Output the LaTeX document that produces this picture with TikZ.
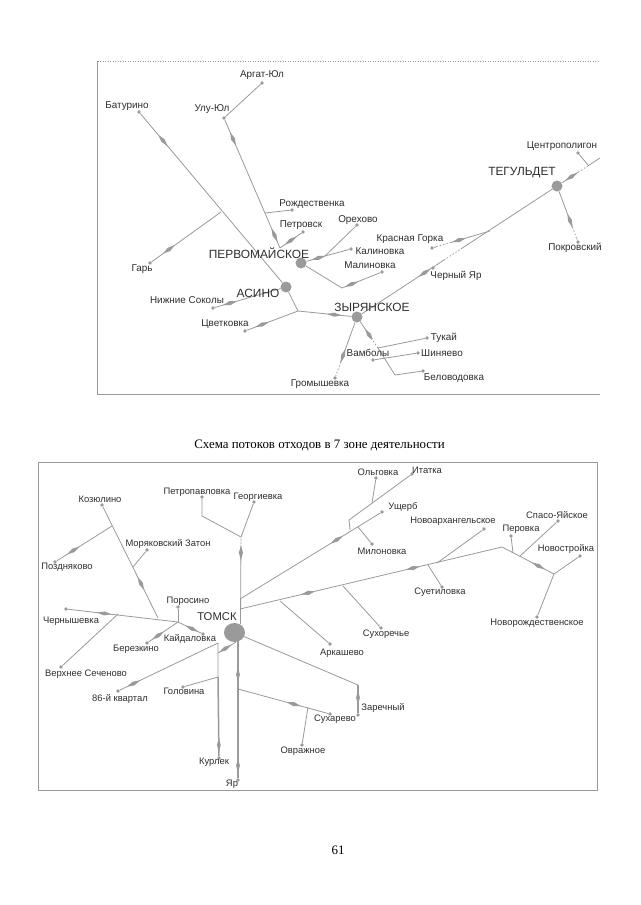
\documentclass[tikz,border=0pt]{standalone}
\usepackage{fontspec}
\setmainfont{Liberation Sans}
\newfontfamily\capfont{Liberation Serif}
\usetikzlibrary{shapes.geometric,calc}
\definecolor{ln}{HTML}{9A9A9A}
\definecolor{tx}{HTML}{2E2E2E}
\tikzset{
 x=1pt,y=-1pt,
 edge/.style={draw=ln,line width=.8pt},
 thick edge/.style={draw=ln,line width=1.5pt},
 frame/.style={draw=ln,line width=1pt},
 dots/.style={draw=ln,line width=.6pt,dash pattern=on 1pt off 1.5pt},
 gapdots/.style={draw=white,line width=1.4pt,dash pattern=on 2pt off 1.5pt},
 pt/.style={circle,fill=ln,inner sep=0,minimum size=3.6pt},
 hub/.style={circle,fill=ln,inner sep=0,minimum size=11pt},
 bighub/.style={ellipse,fill=ln,inner sep=0,minimum width=21pt,minimum height=19pt},
 lab/.style={text=tx,font=\fontsize{9.9}{11}\selectfont,inner sep=0},
 lab2/.style={text=tx,font=\fontsize{9.4}{11}\selectfont,inner sep=0},
 town/.style={text=tx,font=\fontsize{11.9}{13}\selectfont,inner sep=0},
 town2/.style={text=tx,font=\fontsize{11.3}{13}\selectfont,inner sep=0},
 mk/.style={diamond,fill=ln,inner sep=0,minimum width=15pt,minimum height=4.4pt,sloped,aspect=4},
 printed/.style={text=black,font=\capfont\fontsize{12.9}{14}\selectfont,inner sep=0},
}
\begin{document}
\begin{tikzpicture}
\useasboundingbox[fill=white] (0,0) rectangle (640,905);
% ---------- frames
\coordinate (f1a) at (97.5,61); \coordinate (f1b) at (97.5,394.5);
\coordinate (f1c) at (600,394.5); \coordinate (f1d) at (600,61);
\draw[frame] (f1a) -- (f1b) -- (f1c);
\draw[dots] (f1a) -- (f1d);
\coordinate (f2a) at (38.5,462.5); \coordinate (f2b) at (597,790);
\draw[frame] (f2a) rectangle (f2b);
% ---------- upper map: points
\node[hub] (perv) at (301,263) {};
\node[hub] (asino) at (286,287) {};
\node[hub] (zyr) at (357,317) {};
\node[hub] (teg) at (557,186) {};
\node[pt] (argat) at (262,83) {};
\node[pt] (ulu) at (224,118) {};
\node[pt] (bat) at (139,112) {};
\node[pt] (gar) at (150,263) {};
\node[pt] (rozh) at (292,210) {};
\node[pt] (petr) at (303,232) {};
\node[pt] (oreh) at (357,225) {};
\node[pt] (kalin) at (351,249) {};
\node[pt] (malin) at (382,272) {};
\node[pt] (nsok) at (213,308) {};
\node[pt] (cvet) at (245,331) {};
\node[pt] (grom) at (335,378) {};
\node[pt] (vamb) at (373,360) {};
\node[pt] (tukay) at (427,338) {};
\node[pt] (shin) at (418,353) {};
\node[pt] (belo) at (423,371) {};
\node[pt] (kgor) at (432,248) {};
\node[pt] (chyar) at (433,268) {};
\node[pt] (centr) at (578,153) {};
\node[pt] (pokr) at (578,242) {};
\coordinate (jgar) at (221,212);
\coordinate (jroz) at (265,213);
\coordinate (jpet) at (280,248);
\coordinate (jore) at (325,256);
\coordinate (jmal) at (342,288);
\coordinate (jcve) at (298,311);
\coordinate (jvam) at (378,348);
\coordinate (jbel) at (395,375);
\coordinate (jkgo) at (490,231);
\coordinate (jcen) at (588,165);
\coordinate (tegout) at (600,158);
% ---------- upper map: connectors
\draw[edge] (argat) -- (ulu);
\draw[edge] (ulu) -- node[mk,pos=.15]{} (jpet);
\path (ulu) -- node[mk,pos=.9]{} (jpet);
\draw[edge] (jroz) -- (rozh);
\draw[edge] (jpet) -- node[mk,pos=.5]{} (petr);
\draw[edge] (bat) -- node[mk,pos=.16]{} (asino);
\draw[edge] (jgar) -- node[mk,pos=.75]{} (gar);
\draw[edge] (perv) -- node[mk,pos=.65]{} (jore) -- (oreh);
\draw[edge] (jore) -- (kalin);
\draw[edge] (perv) -- (jmal) -- node[mk,pos=.25]{} (malin);
\draw[edge] (asino) -- node[mk,pos=.77]{} (nsok);
\draw[edge] (asino) -- (jcve) -- node[mk,pos=.7]{} (cvet);
\draw[edge] (jcve) -- node[mk,pos=.68]{} (zyr);
\draw[edge] (zyr) -- node[mk,pos=.62]{} (grom);
\draw[edge] (zyr) -- node[mk,pos=.5]{} (jvam) -- (tukay);
\draw[edge] (vamb) -- (shin);
\draw[edge] (jvam) -- (jbel) -- (belo);
\draw[edge] (zyr) -- node[mk,pos=.33]{} (teg);
\draw[edge] (kgor) -- node[mk,pos=.45]{} (jkgo);
\draw[edge] (teg) -- node[mk,pos=.25]{} (tegout);
\draw[edge] (centr) -- (jcen);
\draw[edge] (teg) -- node[mk,pos=.6]{} (pokr);
% broken stretches of line
\draw[gapdots] ($(zyr)!.44!(teg)$) -- ($(zyr)!.52!(teg)$);
\draw[gapdots] ($(kgor)!.1!(jkgo)$) -- ($(kgor)!.32!(jkgo)$);
\draw[gapdots] ($(teg)!.52!(tegout)$) -- ($(teg)!.72!(tegout)$);
\draw[gapdots] ($(teg)!.76!(pokr)$) -- ($(teg)!.95!(pokr)$);
\draw[gapdots] ($(zyr)!.76!(grom)$) -- ($(zyr)!.95!(grom)$);
\draw[gapdots] ($(zyr)!.72!(jvam)$) -- ($(zyr)!.98!(jvam)$);
% ---------- upper map: labels
\node[lab] at (262,75.5) {Аргат-Юл};
\node[lab] at (212,109) {Улу-Юл};
\node[lab] at (127,106) {Батурино};
\node[lab] at (142,269) {Гарь};
\node[lab] at (312,204) {Рождественка};
\node[lab] at (301,225) {Петровск};
\node[lab] at (358,220) {Орехово};
\node[lab] at (410,239) {Красная Горка};
\node[lab] at (380,251) {Калиновка};
\node[lab] at (370,265) {Малиновка};
\node[lab] at (456,276) {Черный Яр};
\node[lab] at (562,146) {Центрополигон};
\node[lab] at (575,248) {Покровский};
\node[lab] at (444,338) {Тукай};
\node[lab] at (442,353) {Шиняево};
\node[lab] at (368,353) {Вамболы};
\node[lab] at (454,378) {Беловодовка};
\node[lab] at (320,384) {Громышевка};
\node[lab] at (187,300) {Нижние Соколы};
\node[lab] at (225,324) {Цветковка};
\node[town] at (259,253) {ПЕРВОМАЙСКОЕ};
\node[town] at (258,293) {АСИНО};
\node[town] at (372,307) {ЗЫРЯНСКОЕ};
\node[town] at (522,173) {ТЕГУЛЬДЕТ};
% ---------- caption
\node[printed] (cap) at (319.5,445) {Схема потоков отходов в 7 зоне деятельности};
\node[printed] (pageno) at (338,850) {61};
% ---------- lower map: points
\node[bighub] (tomsk) at (234.5,632.5) {};
\node[pt] (petrop) at (202,497) {};
\node[pt] (georg) at (254,502) {};
\node[pt] (kozyu) at (102,505) {};
\node[pt] (pozd) at (55,562) {};
\node[pt] (moryak) at (147,550) {};
\node[pt] (chern) at (66,609) {};
\node[pt] (vsech) at (61,667) {};
\node[pt] (poros) at (178,607) {};
\node[pt] (berez) at (147,643) {};
\node[pt] (kayd) at (203,634) {};
\node[pt] (kvart) at (118,691) {};
\node[pt] (golov) at (183,687) {};
\node[pt] (kurl) at (219,758) {};
\node[pt] (yar) at (238,780) {};
\node[pt] (ovr) at (302,745) {};
\node[pt] (suhar) at (330,714) {};
\node[pt] (zar) at (358,715) {};
\node[pt] (arkas) at (330,644) {};
\node[pt] (suhor) at (381,628) {};
\node[pt] (suet) at (442,587) {};
\node[pt] (novarh) at (484,529) {};
\node[pt] (perov) at (511,536) {};
\node[pt] (spaso) at (558,521) {};
\node[pt] (novost) at (580,556) {};
\node[pt] (novroz) at (537,617) {};
\node[pt] (ushch) at (382,512) {};
\node[pt] (itat) at (412,474) {};
\node[pt] (olg) at (376,478) {};
\node[pt] (milon) at (372,544) {};
\coordinate (jtop) at (241,537);
\coordinate (jv1) at (240,599);
\coordinate (jv2) at (240,609);
\coordinate (jpk) at (202,516);
\coordinate (jpoz) at (112,526);
\coordinate (jmor) at (133,567);
\coordinate (jkoz) at (158,618);
\coordinate (jcenter) at (178,622);
\coordinate (jver) at (118,614);
\coordinate (j86) at (218,643);
\coordinate (j86b) at (218,653);
\coordinate (jgol) at (218,677);
\coordinate (jsuh) at (238,689);
\coordinate (jovr) at (308,707);
\coordinate (jzar) at (358,685);
\coordinate (jark) at (280,601);
\coordinate (jsho) at (343,586);
\coordinate (jsue) at (428,565);
\coordinate (jnov) at (437,563);
\coordinate (jbend) at (502,547);
\coordinate (jper) at (513,553);
\coordinate (jspa) at (520,556);
\coordinate (jend) at (554,574);
\coordinate (jita) at (350,530);
\coordinate (jita2) at (349,520);
\coordinate (jolg) at (372,503);
\coordinate (jmil) at (358,527);
\coordinate (tomsktop) at (240.5,624);
\coordinate (tomskbot) at (238,640);
\coordinate (tomskarm) at (236,642);
% ---------- lower map: connectors
\draw[edge] (tomsktop) -- node[mk,pos=.82]{} (jtop);
\draw[edge] (jtop) -- (jpk) -- (petrop);
\draw[edge] (jtop) -- (georg);
\draw[edge] (kozyu) -- node[mk,pos=.69]{} (jkoz);
\draw[edge] (jpoz) -- node[mk,pos=.7]{} (pozd);
\draw[edge] (jmor) -- (moryak);
\draw[edge] (chern) -- node[mk,pos=.33]{} (jcenter);
\draw[edge] (jver) -- (vsech);
\draw[edge] (jcenter) -- (poros);
\draw[edge] (jcenter) -- node[mk,pos=.68]{} (berez);
\draw[edge] (jcenter) -- node[mk,pos=.6]{} (kayd);
\draw[edge] (kvart) -- node[mk,pos=.14]{} (j86);
\draw[edge] (j86) -- (jgol) -- (golov);
\draw[edge] (j86b) -- node[mk,pos=.4]{} (tomskarm);
\draw[thick edge] (jgol) -- node[mk,pos=.86]{} (kurl);
\draw[thick edge] (tomskbot) -- node[mk,pos=.25]{} node[mk,pos=.91]{} (yar);
\draw[edge] (jsuh) -- node[mk,pos=.62]{} (suhar);
\draw[edge] (jovr) -- (ovr);
\draw[edge] (tomsk) -- (jzar);
\draw[thick edge] (jzar) -- node[mk,pos=.45]{} (zar);
\draw[edge] (jv2) -- node[mk,pos=.26]{} node[mk,pos=.66]{} (jbend);
\draw[edge] (jark) -- (arkas);
\draw[edge] (jsho) -- (suhor);
\draw[edge] (jsue) -- (suet);
\draw[edge] (jnov) -- (novarh);
\draw[edge] (jbend) -- node[mk,pos=.7]{} (jend);
\draw[edge] (jper) -- (perov);
\draw[edge] (jspa) -- (spaso);
\draw[edge] (jend) -- (novost);
\draw[edge] (jend) -- (novroz);
\draw[edge] (jv1) -- node[mk,pos=.69]{} (ushch);
\draw[edge] (jita) -- (jita2) -- (itat);
\draw[edge] (jolg) -- (olg);
\draw[edge] (jmil) -- (milon);
\draw[gapdots] (jtop) -- ($(jtop)!.1!(tomsktop)$);
% ---------- lower map: labels
\node[lab2] at (197,492) {Петропавловка};
\node[lab2] at (258,497) {Георгиевка};
\node[lab2] at (100,499) {Козюлино};
\node[lab2] at (67,567) {Поздняково};
\node[lab2] at (168,544) {Моряковский Затон};
\node[lab2] at (71,621) {Чернышевка};
\node[lab2] at (86,674) {Верхнее Сеченово};
\node[lab2] at (188,601) {Поросино};
\node[lab2] at (136,649) {Березкино};
\node[lab2] at (190,639) {Кайдаловка};
\node[lab2] at (120,699) {86-й квартал};
\node[lab2] at (184,691) {Головина};
\node[lab2] at (214,762) {Курлек};
\node[lab2] at (232,784) {Яр};
\node[lab2] at (303,751) {Овражное};
\node[lab2] at (335,719) {Сухарево};
\node[lab2] at (383,708) {Заречный};
\node[lab2] at (342,653) {Аркашево};
\node[lab2] at (386,634) {Сухоречье};
\node[lab2] at (440,592) {Суетиловка};
\node[lab2] at (453,521) {Новоархангельское};
\node[lab2] at (521,529) {Перовка};
\node[lab2] at (557,515) {Спасо-Яйское};
\node[lab2] at (566,549) {Новостройка};
\node[lab2] at (537,623) {Новорождественское};
\node[lab2] at (403,507) {Ущерб};
\node[lab2] at (427,470) {Итатка};
\node[lab2] at (378,472) {Ольговка};
\node[lab2] at (382,551) {Милоновка};
\node[town2] at (217,617) {ТОМСК};
\end{tikzpicture}
\end{document}
